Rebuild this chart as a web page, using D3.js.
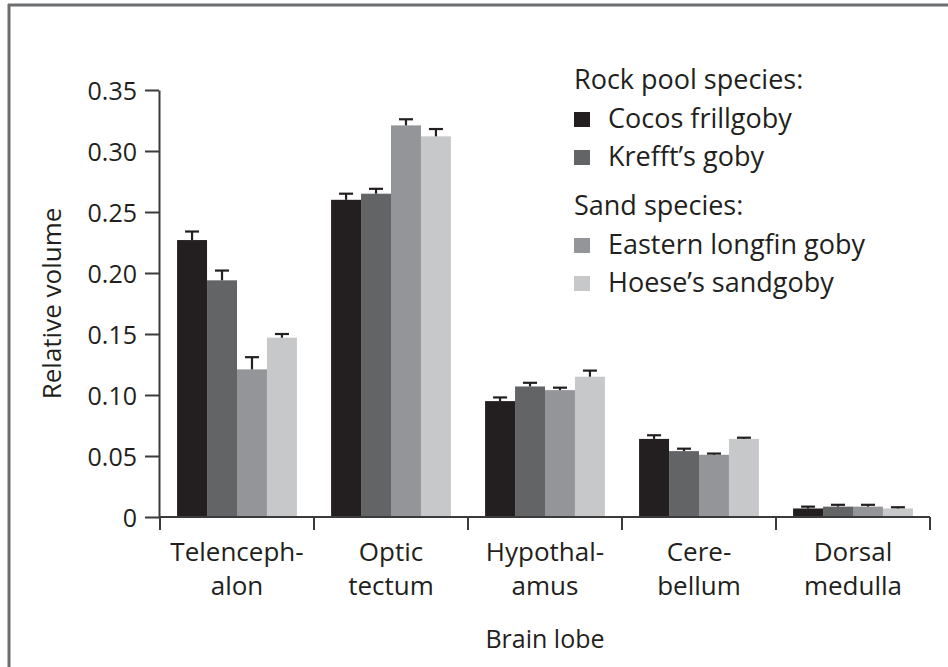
<!DOCTYPE html>
<html>
<head>
<meta charset="utf-8">
<script src="https://cdn.jsdelivr.net/npm/d3@7"></script>
<style>
  body { margin: 0; background: #fff; }
  svg { display: block; }
  .lab { font-family: "Open Sans", sans-serif; fill: #231f20; }
</style>
</head>
<body>
<div id="chart"></div>
<script>
// brain lobes along the x axis (two lines each)
var lobes = ["Telencephalon", "Optic tectum", "Hypothalamus", "Cerebellum", "Dorsal medulla"];
var lobeLines = [["Telenceph-", "alon"], ["Optic", "tectum"], ["Hypothal-", "amus"], ["Cere-", "bellum"], ["Dorsal", "medulla"]];

var species = ["Cocos frillgoby", "Krefft\u2019s goby", "Eastern longfin goby", "Hoese\u2019s sandgoby"];
var speciesColors = ["#231f20", "#636466", "#939598", "#c7c8ca"];

// mean relative volume per lobe, one array per species
var cocos   = [0.227, 0.260, 0.095, 0.064, 0.007];
var krefft  = [0.194, 0.265, 0.107, 0.054, 0.0085];
var eastern = [0.121, 0.321, 0.104, 0.051, 0.0085];
var hoese   = [0.147, 0.312, 0.115, 0.064, 0.007];

// top of the error bar (mean + SE)
var cocosErr   = [0.234, 0.265, 0.098, 0.067, 0.0085];
var krefftErr  = [0.202, 0.269, 0.110, 0.056, 0.010];
var easternErr = [0.131, 0.326, 0.106, 0.052, 0.010];
var hoeseErr   = [0.150, 0.318, 0.120, 0.065, 0.008];

var yTicks = [0, 0.05, 0.10, 0.15, 0.20, 0.25, 0.30, 0.35];

var values = [cocos, krefft, eastern, hoese];
var errors = [cocosErr, krefftErr, easternErr, hoeseErr];

var width = 948, height = 667;
var margin = {left: 159, right: 18, top: 90, bottom: 150};

var svg = d3.select("#chart").append("svg")
    .attr("width", width)
    .attr("height", height);

// frame (top and left edges only are visible)
svg.append("line").attr("x1", 8).attr("x2", width).attr("y1", 5).attr("y2", 5)
    .attr("stroke", "#6d6e70").attr("stroke-width", 3);
svg.append("line").attr("x1", 9).attr("x2", 9).attr("y1", 4).attr("y2", height)
    .attr("stroke", "#6d6e70").attr("stroke-width", 3);

var x0 = d3.scaleBand()
    .domain(lobes)
    .range([margin.left + 1, width - margin.right])
    .padding(0);

var x1 = d3.scaleBand()
    .domain(species)
    .range([0, x0.bandwidth()])
    .paddingInner(0)
    .paddingOuter(0.57);

var y = d3.scaleLinear()
    .domain([0, 0.35])
    .range([height - margin.bottom, margin.top]);

var color = d3.scaleOrdinal().domain(species).range(speciesColors);

// rows: one per lobe x species
var rows = [];
lobes.forEach(function(l, i) {
    species.forEach(function(s, j) {
        rows.push({lobe: l, sp: s, v: values[j][i], e: errors[j][i]});
    });
});

var plot = svg.append("g");

plot.selectAll(".bar").data(rows).enter().append("rect")
    .attr("class", "bar")
    .attr("x", function(d) { return x0(d.lobe) + x1(d.sp); })
    .attr("width", x1.bandwidth())
    .attr("y", function(d) { return y(d.v); })
    .attr("height", function(d) { return y(0) - y(d.v); })
    .attr("fill", function(d) { return color(d.sp); });

// error bars, upper half only
var err = plot.selectAll(".err").data(rows).enter().append("g")
    .attr("class", "err")
    .attr("stroke", "#231f20")
    .attr("stroke-width", 2.2);
err.append("line")
    .attr("x1", function(d) { return x0(d.lobe) + x1(d.sp) + x1.bandwidth() / 2; })
    .attr("x2", function(d) { return x0(d.lobe) + x1(d.sp) + x1.bandwidth() / 2; })
    .attr("y1", function(d) { return y(d.v); })
    .attr("y2", function(d) { return y(d.e); });
err.append("line")
    .attr("x1", function(d) { return x0(d.lobe) + x1(d.sp) + x1.bandwidth() / 2 - 7; })
    .attr("x2", function(d) { return x0(d.lobe) + x1(d.sp) + x1.bandwidth() / 2 + 7; })
    .attr("y1", function(d) { return y(d.e); })
    .attr("y2", function(d) { return y(d.e); });

// y axis
var yAxis = d3.axisLeft(y)
    .tickValues(yTicks)
    .tickSize(14)
    .tickSizeOuter(0)
    .tickPadding(8)
    .tickFormat(function(d) { return d === 0 ? "0" : d3.format(".2f")(d); });

var gy = svg.append("g")
    .attr("transform", "translate(" + margin.left + ",0)")
    .call(yAxis);
gy.select(".domain").attr("stroke", "#3b3b3b").attr("stroke-width", 2);
gy.selectAll(".tick line").attr("stroke", "#3b3b3b").attr("stroke-width", 2);
gy.selectAll(".tick text")
    .attr("class", "lab")
    .style("font-size", "25px")
    .attr("dy", "0.36em");

// x axis: baseline plus ticks at lobe boundaries
var gx = svg.append("g");
gx.append("line")
    .attr("x1", margin.left).attr("x2", width - margin.right)
    .attr("y1", y(0)).attr("y2", y(0))
    .attr("stroke", "#3b3b3b").attr("stroke-width", 2);
var bounds = lobes.map(function(l) { return x0(l); }).concat([x0.range()[1]]);
gx.selectAll(".bt").data(bounds).enter().append("line")
    .attr("x1", function(d) { return d; }).attr("x2", function(d) { return d; })
    .attr("y1", y(0)).attr("y2", y(0) + 13)
    .attr("stroke", "#3b3b3b").attr("stroke-width", 2);

var labs = gx.selectAll(".xl").data(lobes).enter().append("text")
    .attr("class", "lab")
    .attr("text-anchor", "middle")
    .style("font-size", "26px")
    .attr("y", y(0) + 44);
labs.each(function(d, i) {
    var t = d3.select(this);
    lobeLines[i].forEach(function(s, k) {
        t.append("tspan")
            .attr("x", x0(d) + x0.bandwidth() / 2)
            .attr("dy", k === 0 ? 0 : 34)
            .text(s);
    });
});

// axis titles
svg.append("text").attr("class", "lab")
    .attr("text-anchor", "middle")
    .style("font-size", "25px")
    .attr("x", x0.range()[0] + (x0.range()[1] - x0.range()[0]) / 2)
    .attr("y", 648)
    .text("Brain lobe");

svg.append("text").attr("class", "lab")
    .attr("text-anchor", "middle")
    .style("font-size", "26px")
    .attr("transform", "translate(61," + ((y(0) + y(0.35)) / 2) + ") rotate(-90)")
    .text("Relative volume");

// legend
var legendRows = [
    {text: "Rock pool species:", sp: null, y: 80},
    {text: species[0], sp: species[0], y: 119},
    {text: species[1], sp: species[1], y: 157},
    {text: "Sand species:", sp: null, y: 206},
    {text: species[2], sp: species[2], y: 245},
    {text: species[3], sp: species[3], y: 283}
];
var lg = svg.append("g").attr("transform", "translate(574,0)");
lg.selectAll("rect").data(legendRows.filter(function(d) { return d.sp; })).enter().append("rect")
    .attr("x", 0).attr("y", function(d) { return d.y - 7; })
    .attr("width", 16).attr("height", 15)
    .attr("fill", function(d) { return color(d.sp); });
lg.selectAll("text").data(legendRows).enter().append("text")
    .attr("class", "lab")
    .style("font-size", "27px")
    .attr("x", function(d) { return d.sp ? 34 : 0; })
    .attr("y", function(d) { return d.y; })
    .attr("dy", "0.35em")
    .text(function(d) { return d.text; });
</script>
</body>
</html>
